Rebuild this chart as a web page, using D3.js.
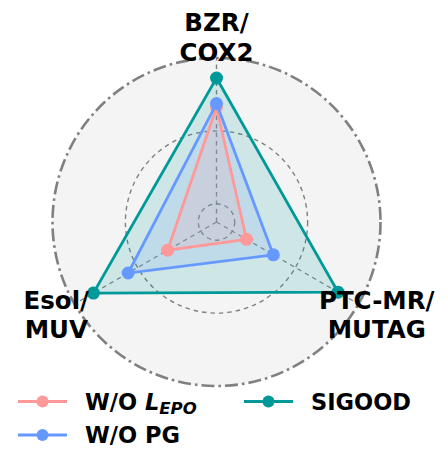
<!DOCTYPE html>
<html>
<head>
<meta charset="utf-8">
<script src="https://cdn.jsdelivr.net/npm/d3@7"></script>
<style>
  body { margin: 0; background: white; }
  text { font-family: "DejaVu Sans", sans-serif; font-weight: bold; }
</style>
</head>
<body>
<div id="vis"></div>
<script>
// axes go clockwise from the top
let axes = [["BZR/", "COX2"], ["PTC-MR/", "MUTAG"], ["Esol/", "MUV"]];
let gridTicks = [0.2, 0.6, 1.0];

let seriesNames = ["W/O L_EPO", "W/O PG", "SIGOOD"];
let woEpo = [0.73, 0.29, 0.41];
let woPg = [0.75, 0.46, 0.66];
let sigood = [0.89, 0.87, 0.88];
let colors = ["#ff9999", "#6699ff", "#009999"];

let width = 448, height = 468;
let cx = 216.5, cy = 222, R = 164;

let svg = d3.select('#vis')
  .append('svg')
  .attr('width', width)
  .attr('height', height);

let r = d3.scaleLinear().domain([0.1, 1.0]).range([0, R]);
let angle = d3.scaleLinear().domain([0, axes.length]).range([0, 2 * Math.PI]);

function pt(i, v) {
  let a = angle(i);
  return [cx + r(v) * Math.sin(a), cy - r(v) * Math.cos(a)];
}

let g = svg.append('g');

// background disc
g.append('circle')
  .attr('cx', cx).attr('cy', cy).attr('r', R)
  .attr('fill', '#f4f4f4');

// inner grid circles
g.selectAll('.grid')
  .data(gridTicks.slice(0, -1))
  .join('circle')
  .attr('cx', cx).attr('cy', cy)
  .attr('r', d => r(d))
  .attr('fill', 'none')
  .attr('stroke', '#808080')
  .attr('stroke-width', 1.4)
  .attr('stroke-dasharray', '4.5,4');

// spokes
g.selectAll('.spoke')
  .data(axes)
  .join('line')
  .attr('x1', cx).attr('y1', cy)
  .attr('x2', (d, i) => pt(i, 1.0)[0])
  .attr('y2', (d, i) => pt(i, 1.0)[1])
  .attr('stroke', '#808080')
  .attr('stroke-width', 1.4)
  .attr('stroke-dasharray', '4.5,4');

// outer circle (dash-dot)
g.append('circle')
  .attr('cx', cx).attr('cy', cy).attr('r', R)
  .attr('fill', 'none')
  .attr('stroke', '#808080')
  .attr('stroke-width', 2.6)
  .attr('stroke-dasharray', '13,4,2.6,4');

let allSeries = [woEpo, woPg, sigood];
let ptsOf = vals => vals.map((v, i) => pt(i, v)).map(p => p.join(',')).join(' ');

// fills first, biggest at the back
[2, 1, 0].forEach(function(k) {
  g.append('polygon')
    .attr('points', ptsOf(allSeries[k]))
    .attr('fill', colors[k])
    .attr('fill-opacity', 0.15);
});

// outlines + markers, SIGOOD last
allSeries.forEach(function(vals, k) {
  g.append('polygon')
    .attr('points', ptsOf(vals))
    .attr('fill', 'none')
    .attr('stroke', colors[k])
    .attr('stroke-width', 2.8)
    .attr('stroke-linejoin', 'miter');
  g.selectAll(null)
    .data(vals)
    .join('circle')
    .attr('cx', (d, i) => pt(i, d)[0])
    .attr('cy', (d, i) => pt(i, d)[1])
    .attr('r', 6.5)
    .attr('fill', colors[k]);
});

// axis labels
let lineH = 29.4;
axes.forEach(function(lines, i) {
  let a = angle(i);
  let lx = cx + 185 * Math.sin(a), ly = cy - 185 * Math.cos(a);
  let t = svg.append('text')
    .attr('text-anchor', 'middle')
    .attr('font-size', 24.5)
    .attr('fill', 'black');
  lines.forEach(function(s, j) {
    t.append('tspan')
      .attr('x', lx)
      .attr('y', ly - lineH / 2 + 8.9 + j * lineH)
      .text(s);
  });
});

// legend
let legendPos = [[18, 401.5], [18, 435], [244, 401.5]];
seriesNames.forEach(function(name, k) {
  let [x, y] = legendPos[k];
  let lg = svg.append('g').attr('transform', `translate(${x},${y})`);
  lg.append('line')
    .attr('x1', 0).attr('x2', 49)
    .attr('y1', 0).attr('y2', 0)
    .attr('stroke', colors[k]).attr('stroke-width', 2.8);
  lg.append('circle')
    .attr('cx', 24.5).attr('cy', 0).attr('r', 6)
    .attr('fill', colors[k]);
  let t = lg.append('text')
    .attr('x', 67).attr('y', 8)
    .attr('font-size', 22.5)
    .attr('fill', 'black');
  if (name.indexOf('_') >= 0) {
    let parts = name.split('_');
    let main = parts[0].slice(0, -1);
    t.append('tspan').text(main);
    t.append('tspan').attr('font-style', 'italic').text(parts[0].slice(-1));
    t.append('tspan').attr('font-style', 'italic').attr('font-size', 16.5)
      .attr('dy', 4).text(parts[1]);
  } else {
    t.text(name);
  }
});
</script>
</body>
</html>
